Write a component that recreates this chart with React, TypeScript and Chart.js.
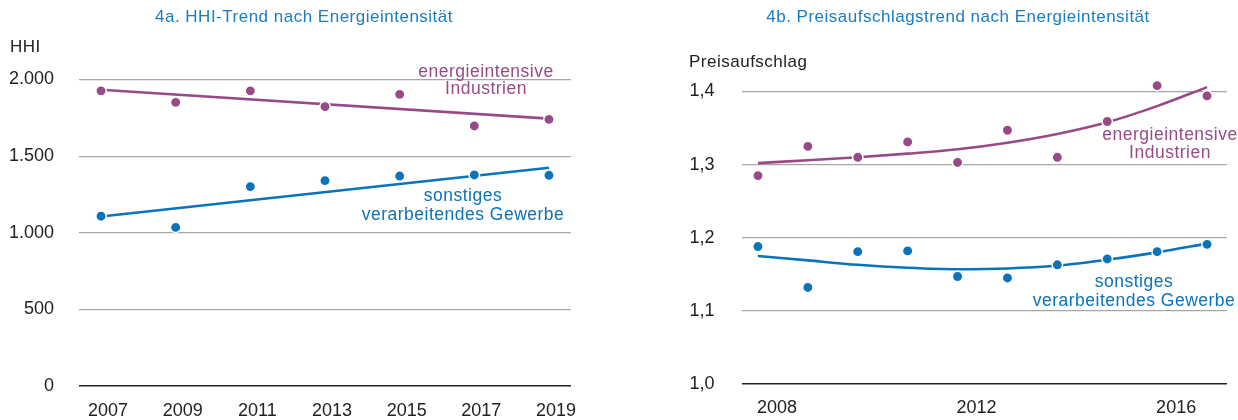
import React, { useEffect, useRef } from "react";
import { Chart, registerables } from "chart.js";

Chart.register(...registerables);

// ---- 4a data ----
const yearsA = [2007, 2009, 2011, 2013, 2015, 2017, 2019];
const hhiEnergy = [1926, 1851, 1926, 1823, 1903, 1697, 1740];
const hhiOther = [1108, 1035, 1301, 1340, 1370, 1377, 1375];
const hhiEnergyTrendYears = [2007, 2019];
const hhiEnergyTrend = [1933, 1745];
const hhiOtherTrend = [1106, 1424];
const ticksA = [0, 500, 1000, 1500, 2000];

// ---- 4b data ----
const yearsB = [2008, 2009, 2010, 2011, 2012, 2013, 2014, 2015, 2016, 2017];
const markupEnergy = [1.285, 1.325, 1.31, 1.331, 1.303, 1.347, 1.31, 1.359, 1.408, 1.394];
const markupOther = [1.188, 1.132, 1.181, 1.182, 1.147, 1.145, 1.163, 1.171, 1.181, 1.191];
const markupEnergyTrend = [1.302, 1.306, 1.31, 1.315, 1.321, 1.33, 1.342, 1.358, 1.38, 1.406];
const markupOtherTrend = [1.175, 1.169, 1.163, 1.159, 1.157, 1.158, 1.162, 1.17, 1.18, 1.192];
const ticksB = [1.0, 1.1, 1.2, 1.3, 1.4];
const xTicksB = [2008, 2012, 2016];

const PINK = "#984a86";
const BLUE = "#0a73b9";
const TITLE_BLUE = "#1b7cc0";
const FONT = "'Liberation Sans', Arial, Helvetica, sans-serif";

type Note = { lines: string[]; x: number; y: number; color: string; lh: number };

function textPlugin(title: string, titleX: number, axisTitle: string, axisX: number, axisY: number, notes: Note[]) {
  return {
    id: "texts",
    afterDatasetsDraw(chart: any) {
      const ctx = chart.ctx;
      ctx.save();
      ctx.textBaseline = "middle";
      ctx.font = `17px ${FONT}`;
      ctx.letterSpacing = "0.5px";
      ctx.fillStyle = TITLE_BLUE;
      ctx.textAlign = "center";
      ctx.fillText(title, titleX, 17);
      ctx.fillStyle = "#222";
      ctx.textAlign = "left";
      ctx.fillText(axisTitle, axisX, axisY);
      ctx.textAlign = "center";
      ctx.font = `17.5px ${FONT}`;
      for (const n of notes) {
        ctx.fillStyle = n.color;
        n.lines.forEach((l, i) => ctx.fillText(l, n.x, n.y + i * n.lh));
      }
      ctx.restore();
    },
  };
}

function pts(xs: number[], ys: number[]) {
  return xs.map((x, i) => ({ x, y: ys[i] }));
}

function scatterDs(data: any[], color: string) {
  return {
    type: "scatter",
    data,
    backgroundColor: color,
    borderColor: "#fff",
    borderWidth: 1.5,
    pointRadius: 5.2,
    showLine: false,
    clip: false,
    order: 0,
  };
}

function lineDs(data: any[], color: string) {
  return {
    type: "line",
    data,
    borderColor: color,
    borderWidth: 2.6,
    pointRadius: 0,
    fill: false,
    cubicInterpolationMode: "monotone",
    clip: false,
    order: 1,
  };
}

function ChartA() {
  const ref = useRef<HTMLCanvasElement>(null);
  useEffect(() => {
    const chart = new Chart(ref.current!, {
      type: "scatter",
      data: {
        datasets: [
          lineDs(pts(hhiEnergyTrendYears, hhiEnergyTrend), PINK),
          lineDs(pts(hhiEnergyTrendYears, hhiOtherTrend), BLUE),
          scatterDs(pts(yearsA, hhiEnergy), PINK),
          scatterDs(pts(yearsA, hhiOther), BLUE),
        ] as any,
      },
      options: {
        animation: false,
        responsive: false,
        layout: { padding: { top: 79.5, right: 49, bottom: 0, left: 0 } },
        plugins: { legend: { display: false }, tooltip: { enabled: false } },
        scales: {
          x: {
            type: "linear",
            min: 2006.41,
            max: 2019.59,
            afterBuildTicks: (s: any) => {
              s.ticks = yearsA.map((v) => ({ value: v }));
            },
            afterFit: (s: any) => {
              s.height = 34;
            },
            grid: { display: false, drawTicks: false },
            border: { display: false },
            ticks: { padding: 14, labelOffset: 7, color: "#222", font: { family: FONT, size: 18 }, callback: (v: any) => String(v), maxRotation: 0, autoSkip: false },
          },
          y: {
            min: 0,
            max: 2000,
            afterBuildTicks: (s: any) => {
              s.ticks = ticksA.map((v) => ({ value: v }));
            },
            afterFit: (s: any) => {
              s.width = 79;
            },
            grid: {
              drawTicks: false,
              color: (c: any) => (c.tick && c.tick.value === 0 ? "#222" : "#a6a6a6"),
              lineWidth: (c: any) => (c.tick && c.tick.value === 0 ? 1.5 : 1.2),
            },
            border: { display: false },
            ticks: {
              padding: 25,
              color: "#222",
              font: { family: FONT, size: 18, lineHeight: 1 },
              callback: (v: any) => Number(v).toLocaleString("de-DE"),
            },
          },
        },
      },
      plugins: [
        textPlugin("4a. HHI-Trend nach Energieintensität", 304, "HHI", 10, 47, [
          { lines: ["energieintensive", "Industrien"], x: 486, y: 72, color: PINK, lh: 17.6 },
          { lines: ["sonstiges", "verarbeitendes Gewerbe"], x: 463, y: 196.5, color: BLUE, lh: 18.3 },
        ]),
      ],
    } as any);
    return () => chart.destroy();
  }, []);
  return <canvas ref={ref} width={620} height={420} style={{ position: "absolute", left: 0, top: 0, width: 620, height: 420 }} />;
}

function ChartB() {
  const ref = useRef<HTMLCanvasElement>(null);
  useEffect(() => {
    const chart = new Chart(ref.current!, {
      type: "scatter",
      data: {
        datasets: [
          lineDs(pts(yearsB, markupEnergyTrend), PINK),
          lineDs(pts(yearsB, markupOtherTrend), BLUE),
          scatterDs(pts(yearsB, markupEnergy), PINK),
          scatterDs(pts(yearsB, markupOther), BLUE),
        ] as any,
      },
      options: {
        animation: false,
        responsive: false,
        layout: { padding: { top: 91.5, right: 11, bottom: 0, left: 0 } },
        plugins: { legend: { display: false }, tooltip: { enabled: false } },
        scales: {
          x: {
            type: "linear",
            min: 2007.67,
            max: 2017.4,
            afterBuildTicks: (s: any) => {
              s.ticks = xTicksB.map((v) => ({ value: v }));
            },
            afterFit: (s: any) => {
              s.height = 35.7;
            },
            grid: { display: false, drawTicks: false },
            border: { display: false },
            ticks: { padding: 13, labelOffset: 19, color: "#222", font: { family: FONT, size: 18 }, callback: (v: any) => String(v), maxRotation: 0, autoSkip: false },
          },
          y: {
            min: 1.0,
            max: 1.4,
            afterBuildTicks: (s: any) => {
              s.ticks = ticksB.map((v) => ({ value: v }));
            },
            afterFit: (s: any) => {
              s.width = 121.5;
            },
            grid: {
              drawTicks: false,
              color: (c: any) => (c.tick && Math.abs(c.tick.value - 1.0) < 1e-6 ? "#222" : "#a6a6a6"),
              lineWidth: (c: any) => (c.tick && Math.abs(c.tick.value - 1.0) < 1e-6 ? 1.5 : 1.2),
            },
            border: { display: false },
            ticks: {
              padding: 27,
              color: "#222",
              font: { family: FONT, size: 18, lineHeight: 1 },
              callback: (v: any) => Number(v).toFixed(1).replace(".", ","),
            },
          },
        },
      },
      plugins: [
        textPlugin("4b. Preisaufschlagstrend nach Energieintensität", 338, "Preisaufschlag", 69, 62.5, [
          { lines: ["energieintensive", "Industrien"], x: 550, y: 135.5, color: PINK, lh: 17.6 },
          { lines: ["sonstiges", "verarbeitendes Gewerbe"], x: 514, y: 282.5, color: BLUE, lh: 18.3 },
        ]),
      ],
    } as any);
    return () => chart.destroy();
  }, []);
  return <canvas ref={ref} width={618} height={420} style={{ position: "absolute", left: 620, top: 0, width: 618, height: 420 }} />;
}

export default function App() {
  return (
    <div style={{ position: "absolute", left: 0, top: 0, width: 1238, height: 420, background: "#fff", overflow: "hidden" }}>
      <ChartA />
      <ChartB />
    </div>
  );
}
